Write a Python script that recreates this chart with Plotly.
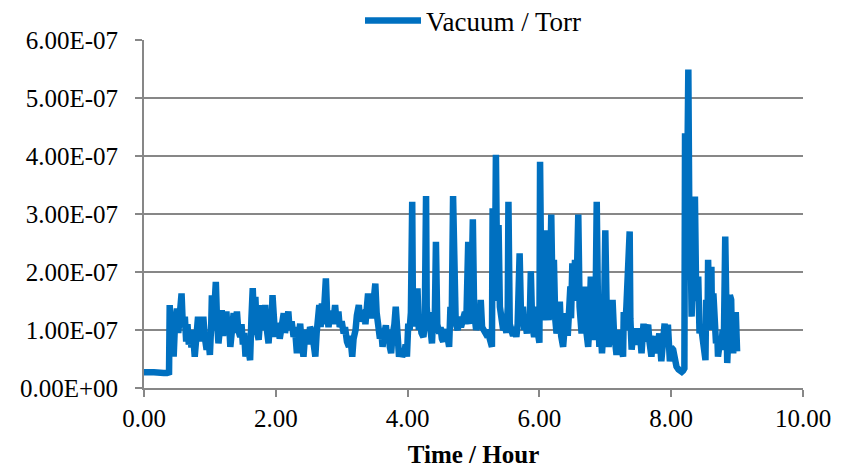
import plotly.graph_objects as go

# Time (hours), segment by segment
time_h = [
    0.00, 0.05, 0.10, 0.15, 0.20, 0.25, 0.30, 0.35, 0.38,
    0.39, 0.41, 0.43, 0.45, 0.47, 0.50, 0.52, 0.54, 0.57, 0.59, 0.62, 0.64, 0.66, 0.68, 0.70,
    0.72, 0.74, 0.77, 0.79, 0.82, 0.84, 0.86, 0.88, 0.90, 0.92, 0.95, 0.97, 1.00,
    1.02, 1.03, 1.05, 1.07, 1.09, 1.11, 1.13, 1.15, 1.18, 1.20, 1.22, 1.25, 1.27, 1.29, 1.31,
    1.33, 1.36, 1.38, 1.41, 1.43, 1.46, 1.48, 1.50, 1.52, 1.54, 1.56, 1.58, 1.61, 1.63, 1.65,
    1.67, 1.69, 1.71, 1.74, 1.76, 1.79, 1.81, 1.84, 1.86, 1.89, 1.91, 1.93, 1.95, 1.97, 1.99,
    2.01, 2.04, 2.06, 2.09, 2.12, 2.14, 2.16, 2.19, 2.21, 2.24, 2.27, 2.29, 2.32, 2.34, 2.37,
    2.39, 2.42, 2.44, 2.47, 2.49, 2.52, 2.55, 2.57, 2.60, 2.62, 2.64, 2.66, 2.68, 2.70, 2.72,
    2.74, 2.76, 2.78, 2.80, 2.82, 2.85, 2.87, 2.90, 2.92, 2.95, 2.97, 3.00, 3.03, 3.05, 3.08,
    3.11, 3.13, 3.16, 3.18, 3.21, 3.23, 3.26, 3.28, 3.31, 3.34, 3.36, 3.38, 3.40, 3.42, 3.44,
    3.46, 3.49, 3.51, 3.53, 3.56, 3.58, 3.60, 3.62, 3.64, 3.67, 3.69, 3.71, 3.73, 3.75, 3.77,
    3.80, 3.82, 3.84, 3.87, 3.89, 3.92, 3.95, 3.97, 3.99,
    4.01, 4.03, 4.05, 4.07, 4.08, 4.10, 4.12, 4.15, 4.17, 4.19, 4.21, 4.24, 4.26, 4.28, 4.29,
    4.31, 4.33, 4.35, 4.37, 4.39, 4.41, 4.43, 4.45, 4.48, 4.50, 4.52, 4.54, 4.56, 4.59, 4.61,
    4.63, 4.65, 4.67, 4.69, 4.71, 4.73, 4.76, 4.79, 4.81, 4.84, 4.87, 4.89, 4.91, 4.92, 4.94,
    4.96, 4.99, 5.01, 5.04, 5.06, 5.09, 5.11, 5.13, 5.15, 5.18, 5.21, 5.23, 5.26, 5.28, 5.29,
    5.31, 5.33, 5.34, 5.36, 5.38, 5.40, 5.43, 5.45, 5.48, 5.50, 5.52, 5.53, 5.55, 5.58, 5.60,
    5.62, 5.65, 5.67, 5.70, 5.72, 5.75, 5.77, 5.79, 5.81, 5.83, 5.85, 5.87, 5.89, 5.92, 5.93,
    5.95, 5.97, 6.00, 6.01, 6.03, 6.06, 6.08, 6.10, 6.12, 6.14, 6.16, 6.18, 6.20, 6.22, 6.24,
    6.26, 6.28, 6.31, 6.33, 6.36, 6.38, 6.41, 6.43, 6.45, 6.47, 6.48, 6.50, 6.52, 6.54, 6.56,
    6.59, 6.61, 6.64, 6.66, 6.69, 6.71, 6.74, 6.76, 6.78, 6.80, 6.82, 6.85, 6.87, 6.89, 6.91,
    6.93, 6.95, 6.98, 7.00, 7.02, 7.05, 7.07, 7.09, 7.11, 7.13, 7.15, 7.17, 7.20, 7.22, 7.24,
    7.27, 7.28, 7.30, 7.32, 7.35, 7.37, 7.38, 7.40, 7.42, 7.45, 7.48, 7.50, 7.52, 7.55, 7.58,
    7.60, 7.62, 7.65, 7.67, 7.70, 7.72, 7.75, 7.77, 7.80, 7.82, 7.85, 7.87, 7.90, 7.92, 7.95,
    7.98, 8.00, 8.03, 8.05, 8.08, 8.11, 8.14, 8.16, 8.18, 8.20, 8.21, 8.23, 8.26, 8.28, 8.29,
    8.31, 8.33, 8.36, 8.38, 8.41, 8.43, 8.45, 8.48, 8.50, 8.52, 8.53, 8.55, 8.56, 8.58, 8.61,
    8.62, 8.64, 8.66, 8.68, 8.70, 8.71, 8.74, 8.76, 8.78, 8.80, 8.82, 8.84, 8.85, 8.87, 8.89,
    8.91, 8.92, 8.94, 8.96, 8.98, 9.00,
]
# Vacuum in units of 1e-7 Torr, same order as time_h
vacuum_e7 = [
    0.27, 0.28, 0.27, 0.27, 0.26, 0.26, 0.26, 0.26, 0.27,
    1.43, 0.90, 1.20, 0.54, 1.10, 1.37, 0.95, 1.45, 1.63, 1.05, 1.23, 0.80, 1.10, 0.75, 0.94,
    0.70, 1.00, 0.54, 0.90, 1.23, 0.85, 1.20, 0.80, 1.23, 0.90, 0.66, 0.95, 0.57,
    1.10, 1.60, 1.00, 1.45, 1.83, 1.10, 0.77, 1.00, 1.34, 0.90, 1.20, 1.32, 0.95, 1.15, 0.71,
    1.00, 1.29, 0.95, 1.32, 1.00, 0.88, 1.10, 0.75, 0.95, 0.54, 0.85, 0.60, 0.48, 1.20, 1.72,
    1.10, 1.57, 1.00, 0.83, 1.15, 1.43, 1.00, 1.43, 1.05, 0.77, 1.10, 0.90, 1.60, 1.10, 0.88,
    1.10, 1.05, 0.85, 1.15, 1.29, 0.95, 1.20, 1.32, 1.00, 1.15, 0.88, 1.05, 0.60, 0.95, 1.11,
    0.80, 0.54, 0.85, 1.00, 0.75, 1.05, 0.97, 0.75, 0.54, 0.95, 1.20, 1.43, 1.05, 1.46, 1.10,
    1.40, 1.89, 1.25, 1.05, 1.25, 1.32, 1.10, 1.43, 1.15, 1.32, 1.05, 1.15, 0.94, 1.05, 0.80,
    0.71, 0.90, 0.54, 0.85, 1.00, 1.25, 1.43, 1.15, 1.30, 1.34, 1.10, 1.40, 1.63, 1.25, 1.46,
    1.20, 1.55, 1.80, 1.30, 1.05, 0.85, 1.00, 0.71, 0.90, 1.08, 0.85, 1.00, 0.71, 0.60, 0.90,
    1.10, 1.40, 0.90, 0.54, 0.65, 0.55, 0.60, 0.75, 0.54,
    1.11, 1.00, 1.30, 3.21, 1.50, 1.06, 1.30, 1.72, 1.00, 1.17, 0.95, 0.88, 1.10, 3.31, 1.40,
    1.06, 1.20, 0.90, 0.77, 1.31, 1.00, 2.52, 1.10, 0.94, 1.05, 0.85, 0.80, 0.95, 1.00, 0.85,
    0.71, 1.40, 1.20, 3.31, 1.30, 1.11, 1.00, 1.23, 1.05, 1.15, 1.31, 1.10, 1.95, 2.52, 1.20,
    1.11, 2.91, 1.30, 1.00, 1.10, 1.05, 1.52, 1.05, 1.00, 0.95, 1.00, 0.90, 0.80, 0.71, 3.10,
    1.50, 2.60, 4.02, 1.80, 2.81, 1.40, 1.17, 1.00, 1.06, 0.95, 1.40, 3.21, 1.10, 1.00, 0.90,
    1.05, 0.88, 1.10, 2.32, 1.30, 1.40, 1.00, 1.10, 0.94, 1.20, 1.00, 2.01, 1.10, 0.88, 1.10,
    1.40, 1.00, 0.78, 3.90, 1.60, 1.17, 1.80, 2.72, 1.40, 1.17, 1.60, 2.99, 1.50, 2.21, 1.20,
    0.94, 1.10, 1.49, 0.90, 0.71, 1.00, 1.29, 0.90, 1.40, 1.75, 1.20, 2.15, 1.60, 2.21, 1.50,
    2.99, 1.40, 0.94, 1.20, 1.75, 1.00, 0.71, 1.10, 1.92, 1.10, 0.83, 1.20, 3.21, 1.30, 0.71,
    1.00, 0.60, 1.20, 2.72, 1.40, 0.71, 0.90, 1.20, 1.52, 1.00, 0.70, 0.57, 0.83, 1.00, 0.70,
    0.54, 1.31, 1.00, 1.40, 2.09, 2.70, 1.20, 0.66, 0.90, 0.75, 1.03, 0.80, 1.00, 0.60, 1.11,
    0.80, 1.00, 1.09, 0.80, 0.54, 0.80, 0.89, 0.60, 0.85, 0.94, 0.46, 0.80, 1.11, 0.80, 1.09,
    0.46, 0.70, 0.66, 0.50, 0.37, 0.32, 0.30, 0.28, 0.30, 0.34, 4.39, 2.00, 5.49, 2.09, 3.00,
    1.23, 2.00, 3.30, 1.50, 1.92, 0.94, 1.10, 0.83, 0.70, 0.48, 1.52, 1.00, 2.21, 1.20, 2.09,
    1.00, 1.63, 1.00, 0.77, 0.90, 0.54, 0.80, 0.66, 1.00, 0.90, 2.61, 1.00, 0.43, 1.00, 1.60,
    1.52, 0.90, 0.60, 0.90, 1.31, 0.63,
]
assert len(time_h) == len(vacuum_e7)
vacuum = [v * 1e-7 for v in vacuum_e7]

y_tick_vals = [0, 1e-7, 2e-7, 3e-7, 4e-7, 5e-7, 6e-7]
y_tick_text = ["0.00E+00", "1.00E-07", "2.00E-07", "3.00E-07",
               "4.00E-07", "5.00E-07", "6.00E-07"]
x_tick_vals = [0, 2, 4, 6, 8, 10]

FONT = "Liberation Serif, Times New Roman, serif"
GRID = "#878787"

fig = go.Figure()
fig.add_trace(go.Scatter(
    x=time_h, y=vacuum, mode="lines", name="Vacuum / Torr",
    line=dict(color="#0070C0", width=6.5),
))

# page body has an 8px margin, so the figure is 8px smaller on each side
fig.update_layout(
    width=834, height=460,
    margin=dict(l=136, r=39, t=32, b=80, autoexpand=False),
    paper_bgcolor="white", plot_bgcolor="white",
    font=dict(family=FONT, size=25, color="black"),
    showlegend=True,
    legend=dict(orientation="h", x=0.5, xanchor="center",
                yref="container", y=0.972, yanchor="middle",
                font=dict(size=27), bgcolor="rgba(0,0,0,0)",
                borderwidth=0, itemwidth=56),
    xaxis=dict(
        range=[0, 10], tickvals=x_tick_vals, tickformat=".2f",
        showgrid=False, zeroline=False,
        showline=True, linecolor=GRID, linewidth=2,
        ticks="outside", ticklen=7, tickwidth=2, tickcolor=GRID,
        title=dict(text="<b>Time / Hour</b>", font=dict(size=25), standoff=18),
    ),
    yaxis=dict(
        range=[0, 6e-7], tickvals=y_tick_vals, ticktext=y_tick_text,
        showgrid=True, gridcolor=GRID, gridwidth=2, zeroline=False,
        showline=True, linecolor=GRID, linewidth=2,
        ticks="outside", ticklen=7, tickwidth=2, tickcolor=GRID,
        ticklabelstandoff=12,
    ),
)

fig.write_html("out.html")
